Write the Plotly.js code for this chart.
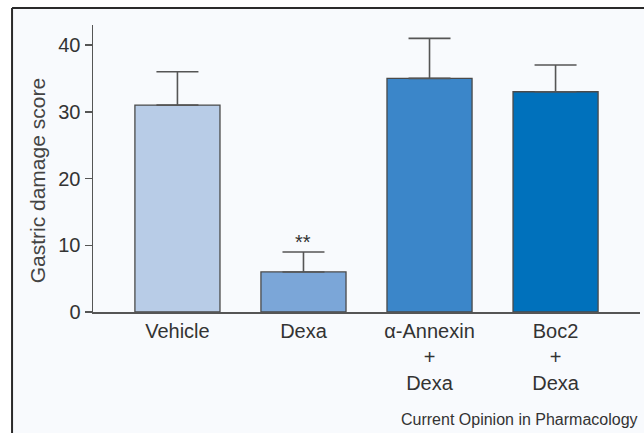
<!DOCTYPE html>
<html>
<head>
<meta charset="utf-8">
<script src="https://cdn.plot.ly/plotly-3.0.1.min.js"></script>
<style>
html,body{margin:0;padding:0;background:#fff;}
#chart{width:644px;height:433px;}
</style>
</head>
<body>
<div id="chart"></div>
<script>
const categories = ["Vehicle", "Dexa", "α-Annexin<br>+<br>Dexa", "Boc2<br>+<br>Dexa"];
const scores = [31, 6, 35, 33];
const errorsUp = [5, 3, 6, 4];
const barColors = ["#b8cce7", "#7ba6d8", "#3b86c9", "#0071bc"];
const significance = ["", "**", "", ""];
const yTicks = [0, 10, 20, 30, 40];
const yTitle = "Gastric damage score";
const sourceNote = "Current Opinion in Pharmacology";

const FONT = "Liberation Sans, Arial, Helvetica, sans-serif";
const AX = "#555555";

const trace = {
  type: "bar",
  x: categories,
  y: scores,
  width: 0.675,
  marker: {color: barColors, line: {color: "#4a4a4a", width: 1.3}},
  error_y: {type: "data", array: errorsUp, arrayminus: errorsUp.map(() => 0), symmetric: false,
            color: AX, thickness: 1.6, width: 21},
  hoverinfo: "skip"
};

const annotations = [];
significance.forEach((s, i) => {
  if (s) annotations.push({
    x: categories[i], y: scores[i] + errorsUp[i], xref: "x", yref: "y",
    text: s, showarrow: false, yanchor: "bottom", yshift: -3,
    font: {family: FONT, size: 20, color: "#333"}
  });
});
annotations.push({
  xref: "paper", yref: "paper", x: 1.0, y: -0.376, xanchor: "right", yanchor: "middle",
  text: sourceNote, showarrow: false,
  font: {family: FONT, size: 16, color: "#333"}
});
annotations.push({
  xref: "paper", yref: "paper", x: -0.102, y: 0.456, xanchor: "center", yanchor: "middle",
  text: yTitle, textangle: -90, showarrow: false,
  font: {family: FONT, size: 21, color: "#444"}
});

const layout = {
  width: 644, height: 433,
  margin: {l: 93, r: 4, t: 25, b: 121},
  paper_bgcolor: "#ffffff",
  plot_bgcolor: "rgba(0,0,0,0)",
  font: {family: FONT, color: "#333"},
  showlegend: false,
  bargap: 0.325,
  xaxis: {
    range: [-0.67, 3.67],
    showline: true, linecolor: AX, linewidth: 1.5,
    ticks: "", showgrid: false, zeroline: false,
    tickfont: {family: FONT, size: 20, color: "#333"},
    fixedrange: true
  },
  yaxis: {
    range: [0, 43],
    tickvals: yTicks,
    showline: true, linecolor: AX, linewidth: 1.5,
    ticks: "outside", ticklen: 7, tickcolor: AX, tickwidth: 1.5,
    showgrid: false, zeroline: false,
    tickfont: {family: FONT, size: 20, color: "#333"},
    fixedrange: true
  },
  shapes: [
    {type: "rect", xref: "paper", yref: "paper", x0: -0.148, x1: 1.02, y0: -0.43, y1: 1.059,
     fillcolor: "#f8fafd", line: {width: 0}, layer: "below"},
    {type: "line", xref: "paper", yref: "paper", x0: -0.148, x1: -0.148, y0: -0.43, y1: 1.059,
     line: {color: "#2a2a2a", width: 2}, layer: "below"},
    {type: "line", xref: "paper", yref: "paper", x0: -0.148, x1: 1.02, y0: 1.059, y1: 1.059,
     line: {color: "#2a2a2a", width: 2}, layer: "below"}
  ],
  annotations: annotations
};

Plotly.newPlot("chart", [trace], layout, {displayModeBar: false, staticPlot: true});
</script>
</body>
</html>
